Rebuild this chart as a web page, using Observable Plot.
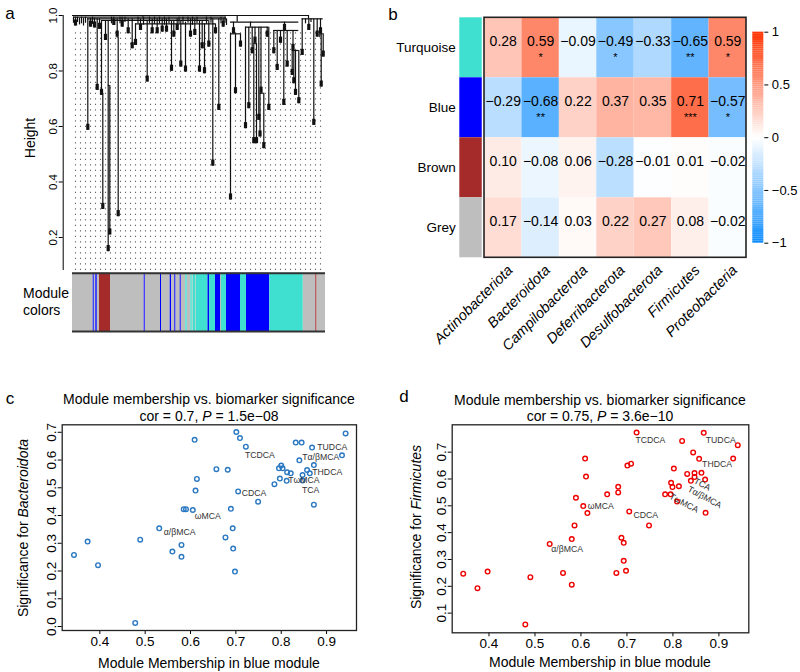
<!DOCTYPE html>
<html><head><meta charset="utf-8">
<script src="https://cdn.jsdelivr.net/npm/d3@7"></script>
<script src="https://cdn.jsdelivr.net/npm/@observablehq/plot@0.6"></script>
<style>
body{margin:0;background:#fff;}
#fig{position:relative;width:800px;height:672px;overflow:hidden;background:#fff;font-family:"Liberation Sans",Arial,Helvetica,sans-serif;color:#000;}
#fig svg{position:absolute;overflow:visible;}
</style></head>
<body><div id="fig"></div>
<script>
// ---------------- DATA ----------------
// Panel a: dendrogram (leaf position units, heights)
const dendroBranches = [ // [leaf x, top height, bottom height]
 [1,0.994,0.972],[3,0.994,0.962],[5,0.994,0.975],[7,0.99,0.966],[9,0.994,0.97],[11,0.99,0.962],[13,0.994,0.972],
 [15.3,0.988,0.586],[18,0.99,0.958],[20,0.994,0.968],[22,0.99,0.955],[24.7,0.988,0.73],[27,0.988,0.95],[29,0.982,0.712],
 [30.3,0.72,0.301],[33,0.982,0.91],[35.7,0.982,0.149],[37.3,0.748,0.209],[39,0.994,0.97],[41.3,0.994,0.964],[44.7,0.988,0.922],
 [45.7,0.922,0.275],[47.5,0.994,0.97],[49.7,0.994,0.958],[52.5,0.994,0.975],[55.7,0.988,0.934],[59.7,0.988,0.88],[63,0.97,0.892],
 [65.5,0.994,0.97],[68,0.988,0.946],[71,0.994,0.965],[74.7,0.982,0.76],[77,0.994,0.97],[79.7,0.988,0.934],[82,0.994,0.968],
 [84.7,0.988,0.934],[87,0.994,0.97],[89.7,0.988,0.94],[92,0.994,0.965],[94,0.988,0.94],[96.5,0.994,0.97],[99,0.982,0.799],
 [101.3,0.982,0.922],[104.7,0.988,0.946],[106.5,0.994,0.97],[108.3,0.982,0.814],[110.5,0.994,0.968],[113,0.976,0.796],
 [115.5,0.994,0.972],[118,0.988,0.922],[120,0.994,0.965],[122.3,0.988,0.928],[124.5,0.994,0.97],[127,0.982,0.796],
 [129.7,0.982,0.88],[132,0.97,0.79],[134,0.994,0.968],[136.3,0.982,0.886],[138.5,0.994,0.972],[140.3,0.988,0.457],
 [143,0.97,0.934],[146.3,0.988,0.658],[148.5,0.994,0.97],[150.7,0.988,0.958],[152.5,0.994,0.972],[154,0.988,0.964],
 [70,1.0,0.994],[164.7,1.0,0.976],
 [161,0.976,0.934],[158,0.934,0.335],[163,0.934,0.718],[168,0.934,0.886],
 [178,0.976,0.958],[173,0.958,0.592],[176.3,0.958,0.664],[179.7,0.958,0.862],[182.5,0.958,0.9],[181.3,0.9,0.538],[184,0.9,0.538],
 [186.3,0.958,0.622],[188.5,0.958,0.72],[187.5,0.72,0.562],[191.3,0.72,0.52],[194.7,0.958,0.922],[196.3,0.958,0.658],
 [212,0.976,0.946],[201.3,0.946,0.862],[204.7,0.946,0.802],[208,0.946,0.9],[211.3,0.946,0.676],[214.7,0.946,0.814],
 [220.5,0.946,0.874],[219.7,0.874,0.784],[221.3,0.874,0.754],[223,0.874,0.712],[226.3,0.874,0.682],
 [236,1.0,0.988],[229.7,0.988,0.856],[233,0.988,0.97],[236.3,0.988,0.946],[238.5,0.988,0.975],[241.3,0.988,0.604],
 [244.7,0.988,0.922],[248,0.988,0.934],[247.3,0.934,0.92],[248.7,0.934,0.742],[250.7,0.934,0.85]
];
const dendroMerges = [ // [x1, x2, height]
 [0,236,1.0],[1,154,0.994],[15,154,0.988],[29,136.3,0.982],[63,143,0.97],[29,30.3,0.72],[35.7,37.3,0.748],[44.7,45.7,0.922],
 [158,226.3,0.976],[158,168,0.934],[173,196.3,0.958],[181.3,184,0.9],[187.5,191.3,0.72],[201.3,226.3,0.946],[219.7,226.3,0.874],
 [229.7,250.7,0.988],[247.3,250.7,0.934]
];
const moduleColorRuns = [ // [module colour, from leaf, to leaf]
 ["grey",0,20.7],["blue",20.7,21.7],["grey",21.7,23.3],["blue",23.3,24.7],["grey",24.7,27],["brown",27,38],["grey",38,71.7],
 ["blue",71.7,72.7],["grey",72.7,88],["blue",88,89],["grey",89,97.7],["blue",97.7,99],["grey",99,102.3],["blue",102.3,103.3],
 ["grey",103.3,107.7],["blue",107.7,108.7],["grey",108.7,113.3],["turquoise",113.3,114.7],["grey",114.7,118.3],
 ["turquoise",118.3,119.7],["grey",119.7,120.7],["turquoise",120.7,123],["grey",123,123.7],["turquoise",123.7,135.3],
 ["blue",135.3,137],["turquoise",137,143],["blue",143,148],["grey",148,149],["turquoise",149,154],["blue",154,168],
 ["turquoise",168,174],["blue",174,197.3],["turquoise",197.3,230.7],["grey",230.7,243.3],["brown",243.3,244.3],["grey",244.3,253]
];
const heightTicks = [0.2,0.4,0.6,0.8,1.0];

// Panel b: module-trait correlations
const modules = ["Turquoise","Blue","Brown","Grey"];
const moduleFill = ["#40E0D0","#0000FF","#A52A2A","#BEBEBE"];
const taxa = ["Actinobacteriota","Bacteroidota","Campilobacterota","Deferribacterota","Desulfobacterota","Firmicutes","Proteobacteria"];
const corTurquoise = [0.28,0.59,-0.09,-0.49,-0.33,-0.65,0.59];
const corBlue      = [-0.29,-0.68,0.22,0.37,0.35,0.71,-0.57];
const corBrown     = [0.10,-0.08,0.06,-0.28,-0.01,0.01,-0.02];
const corGrey      = [0.17,-0.14,0.03,0.22,0.27,0.08,-0.02];
const starsTurquoise = ["","*","","*","","**","*"];
const starsBlue      = ["","**","","","","***","*"];
const starsBrown     = ["","","","","","",""];
const starsGrey      = ["","","","","","",""];
const legendTicks = [-1,-0.5,0,0.5,1];

// Panel c: MM vs GS for Bacteroidota
const mmC = [0.343,0.373,0.396,0.478,0.489,0.531,0.560,0.580,0.580,0.585,0.590,0.605,0.609,0.614,0.611,0.657,0.682,0.677,0.689,0.693,0.694,0.698,0.701,0.709,0.705,0.722,0.749,0.785,0.797,0.795,0.800,0.803,0.812,0.813,0.821,0.832,0.845,0.840,0.847,0.847,0.857,0.863,0.868,0.872,0.872,0.934,0.942];
const gsC = [0.258,0.306,0.221,0.013,0.313,0.354,0.270,0.294,0.251,0.423,0.423,0.420,0.673,0.532,0.490,0.567,0.565,0.321,0.424,0.354,0.281,0.198,0.701,0.679,0.487,0.648,0.450,0.513,0.533,0.570,0.580,0.570,0.525,0.556,0.552,0.663,0.663,0.599,0.546,0.526,0.564,0.552,0.645,0.582,0.439,0.617,0.696];
const labelsC = [["TUDCA",0.9125,0.646],["Tα/βMCA",0.887,0.612],["THDCA",0.9015,0.556],["TωMCA",0.850,0.529],["TCA",0.865,0.492],["TCDCA",0.753,0.618],["CDCA",0.740,0.481],["ωMCA",0.638,0.396],["α/βMCA",0.576,0.339]];

// Panel d: MM vs GS for Firmicutes
const mmD = [0.344,0.375,0.397,0.479,0.490,0.532,0.561,0.580,0.580,0.586,0.589,0.605,0.609,0.611,0.614,0.657,0.681,0.681,0.677,0.688,0.693,0.693,0.698,0.701,0.709,0.705,0.721,0.748,0.783,0.795,0.796,0.799,0.802,0.813,0.809,0.820,0.831,0.839,0.844,0.847,0.847,0.857,0.862,0.867,0.870,0.871,0.931,0.941];
const gsD = [0.247,0.193,0.255,0.058,0.234,0.358,0.250,0.206,0.376,0.427,0.530,0.499,0.676,0.609,0.473,0.543,0.571,0.550,0.250,0.381,0.362,0.295,0.258,0.650,0.657,0.479,0.773,0.427,0.543,0.543,0.586,0.570,0.639,0.573,0.516,0.742,0.619,0.593,0.699,0.622,0.607,0.675,0.623,0.772,0.598,0.474,0.676,0.726];
const labelsD = [["TCDCA",0.751,0.743],["TUDCA",0.904,0.743],["THDCA",0.896,0.654],["CDCA",0.741,0.464],["ωMCA",0.643,0.499],["α/βMCA",0.570,0.340]];
const labelsDTilted = [["TCA",0.864,0.580],["Tα/βMCA",0.869,0.532],["TωMCA",0.824,0.510]];
const mmTicks = [0.4,0.5,0.6,0.7,0.8,0.9];
const gsTicksC = [0,0.1,0.2,0.3,0.4,0.5,0.6,0.7];
const gsTicksD = [0.1,0.2,0.3,0.4,0.5,0.6,0.7];

// ---------------- RENDER ----------------
const FONT = '"Liberation Sans", Arial, Helvetica, sans-serif';
const fig = document.getElementById("fig");
const colorHex = {grey:"#BEBEBE", blue:"#0000FF", brown:"#A52A2A", turquoise:"#40E0D0"};
function put(node, left, top){ node.style.left = left+"px"; node.style.top = top+"px"; fig.appendChild(node); }
function txt(html, x, y, o = {}){
  const d = document.createElement("div");
  d.innerHTML = html;
  d.style.cssText = `position:absolute;left:${x}px;top:${y}px;font-size:${o.size||14}px;white-space:nowrap;line-height:1;`;
  const ax = o.anchor === "start" ? "0" : "-50%";
  d.style.transform = `translate(${ax},-50%)` + (o.rotate ? ` rotate(${o.rotate}deg)` : "");
  fig.appendChild(d);
}
const sty = (fs) => ({fontFamily: FONT, fontSize: fs + "px", background: "none", overflow: "visible", color: "#000"});

// ---- Panel a: dendrogram
const xDom = [-9.3, 253];
const guideX = d3.range(3, 253, 5);
const dendro = Plot.plot({
  width: 340, height: 272, marginLeft: 62.7, marginRight: 15, marginTop: 15, marginBottom: 2,
  style: sty(11.5),
  x: {domain: xDom, axis: null},
  y: {domain: [0.081, 1], ticks: heightTicks, tickFormat: ".1f", tickRotate: -90, tickSize: 4, tickPadding: 2, label: null},
  marks: [
    Plot.ruleX(guideX, {x: d => d, y1: 0.081, y2: 0.94, stroke: "#666", strokeWidth: 1.1, strokeDasharray: "1.2 4.3"}),
    Plot.ruleY(dendroMerges, {y: d => d[2], x1: d => d[0], x2: d => d[1], stroke: "#111", strokeWidth: 1.2}),
    Plot.ruleX(dendroBranches, {x: d => d[0], y1: d => d[1], y2: d => d[2], stroke: "#111", strokeWidth: 1.2}),
    Plot.ruleX(dendroBranches.filter(d => d[1] - d[2] > 0.03), {x: d => d[0], y1: d => d[2], y2: d => d[2] + 0.022, stroke: "#111", strokeWidth: 3.2}),
    Plot.ruleX([xDom[0]], {y1: 0.081, y2: 1, stroke: "#000", strokeWidth: 1})
  ]
});
put(dendro, 0, 0);

const colorRow = Plot.plot({
  width: 340, height: 62, marginLeft: 62.7, marginRight: 15, marginTop: 1.7, marginBottom: 2,
  style: sty(12),
  x: {domain: xDom, axis: null},
  y: {domain: [0, 1], axis: null},
  marks: [
    ...Object.keys(colorHex).map(c => Plot.rect(moduleColorRuns.filter(r => r[0] === c), {x1: d => d[1], x2: d => d[2], y1: 0, y2: 1, fill: colorHex[c]})),
    Plot.ruleY([0, 1], {x1: 0, x2: 253, stroke: "#333", strokeWidth: 2})
  ]
});
put(colorRow, 0, 271);

txt("a", 10, 13, {size: 17});
txt("Height", 30, 138, {size: 14, rotate: -90});
txt("Module", 23, 292.5, {size: 14, anchor: "start"});
txt("colors", 23, 310, {size: 14, anchor: "start"});

// ---- Panel b: heatmap
const corRows = [corTurquoise, corBlue, corBrown, corGrey];
const starRows = [starsTurquoise, starsBlue, starsBrown, starsGrey];
const cells = corRows.flatMap((row, j) => row.map((v, i) => ({i, j, v, s: starRows[j][i]})));
const fmt = d3.format(".2f");
const colorScale = {type: "linear", domain: [-1, 0, 1], range: ["#0D8CFF", "#FFFFFF", "#FF3300"], interpolate: "rgb"};
const heat = Plot.plot({
  width: 400, height: 350, marginLeft: 59.3, marginRight: 54, marginTop: 17.3, marginBottom: 92.7,
  style: sty(14),
  x: {domain: [-0.66, 7], axis: null},
  y: {domain: [4, 0], axis: null},
  color: colorScale,
  marks: [
    Plot.rect(cells, {x1: d => d.i, x2: d => d.i + 1, y1: d => d.j, y2: d => d.j + 1, fill: d => d.v}),
    ...modules.map((m, j) => Plot.rect([m], {x1: () => -0.66, x2: () => -0.06, y1: () => j, y2: () => j + 1, fill: moduleFill[j]})),
    Plot.rect([0], {x1: () => 0, x2: () => 7, y1: () => 0, y2: () => 4, fill: "none", stroke: "#222", strokeWidth: 1.6}),
    Plot.text(cells, {x: d => d.i + 0.5, y: d => d.j + 0.5, text: d => fmt(d.v), dy: -6, fontSize: 14}),
    Plot.text(cells.filter(d => d.s), {x: d => d.i + 0.5, y: d => d.j + 0.5, text: d => d.s, dy: 10, fontSize: 11}),
    Plot.text(modules, {x: () => -0.66, y: (d, j) => j + 0.5, text: d => d, textAnchor: "end", dx: -4, fontSize: 13.5}),
    Plot.text(taxa, {x: (d, i) => i + 0.5, y: () => 4, text: d => d, rotate: -45, textAnchor: "end", dx: 7, dy: 10, fontSize: 14.5, fontStyle: "italic"})
  ]
});
put(heat, 400, 0);

const ramp = d3.range(-1, 1, 0.02);
const legend = Plot.plot({
  width: 60, height: 260, marginLeft: 12.3, marginRight: 36.7, marginTop: 31.7, marginBottom: 17.3,
  style: sty(13),
  x: {domain: [0, 1], axis: null},
  y: {domain: [-1, 1], axis: "right", ticks: legendTicks, tickSize: 4, tickPadding: 4, label: null,
      tickFormat: d => d === 0 ? "0" : (d < 0 ? "\u2212" : "") + Math.abs(d)},
  color: colorScale,
  marks: [
    Plot.rect(ramp, {x1: 0, x2: 1, y1: d => d, y2: d => d + 0.0205, fill: d => d + 0.01})
  ]
});
put(legend, 740, 0);
txt("b", 393, 14, {size: 17});

// ---- Panels c & d: scatter
function scatter(mm, gs, color, xd, yd, yTicks, m, labels, tilted){
  return Plot.plot({
    width: 400, height: 292, marginLeft: m[0], marginRight: m[1], marginTop: m[2], marginBottom: m[3],
    style: sty(13.5),
    x: {domain: xd, ticks: mmTicks, tickFormat: ".1f", tickSize: 4, tickPadding: 2, label: null},
    y: {domain: yd, ticks: yTicks, tickFormat: ".1f", tickSize: 4, tickPadding: 2, tickRotate: -90, label: null},
    marks: [
      Plot.frame({stroke: "#222", strokeWidth: 1.3}),
      Plot.dot(mm.map((x, i) => [x, gs[i]]), {x: d => d[0], y: d => d[1], r: 2.3, stroke: color, strokeWidth: 1.4, fill: "none"}),
      Plot.text(labels, {x: d => d[1], y: d => d[2], text: d => d[0], fontSize: 8.7, fill: "#333"}),
      ...(tilted ? [Plot.text(tilted, {x: d => d[1], y: d => d[2], text: d => d[0], fontSize: 8.7, fill: "#333", rotate: 28})] : [])
    ]
  });
}
put(scatter(mmC, gsC, "#2a78c2", [0.317, 0.966], [-0.0144, 0.727], gsTicksC, [61.7, 44, 44.3, 42], labelsC, null), 0, 380);
put(scatter(mmD, gsD, "#ee0000", [0.320, 0.965], [0.0267, 0.802], gsTicksD, [51.7, 51.7, 44.3, 39.7], labelsD, labelsDTilted), 400, 380);

txt("c", 10, 398, {size: 17});
txt("Module membership vs. biomarker significance", 209, 399, {size: 14});
txt("cor = 0.7, <i>P</i> = 1.5e\u221208", 209, 416, {size: 14});
txt("Module Membership in blue module", 209, 663, {size: 14});
txt("Significance for <i>Bacteroidota</i>", 22.7, 527.5, {size: 14, rotate: -90});

txt("d", 404, 396, {size: 17});
txt("Module membership vs. biomarker significance", 600, 400, {size: 14});
txt("cor = 0.75, <i>P</i> = 3.6e\u221210", 600, 416, {size: 14});
txt("Module Membership in blue module", 600, 662, {size: 14});
txt("Significance for <i>Firmicutes</i>", 416, 527, {size: 14, rotate: -90});
</script>
</body></html>
